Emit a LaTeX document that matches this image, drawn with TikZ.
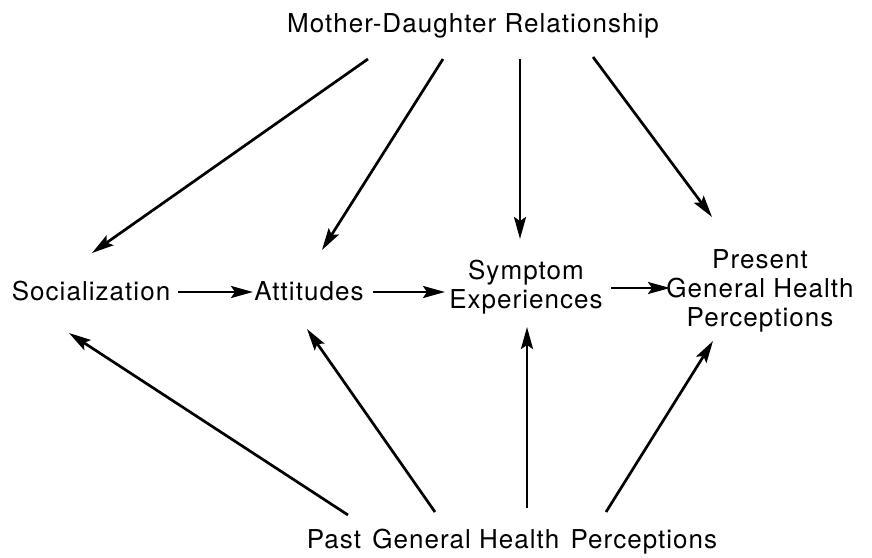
\documentclass[tikz,border=0pt]{standalone}
\usepackage{fontspec}
\setmainfont[LetterSpace=4]{TeX Gyre Heros}
\usetikzlibrary{arrows.meta}

\begin{document}
\begin{tikzpicture}[x=1pt,y=1pt,
    every node/.style={font=\fontsize{26}{29}\selectfont,inner sep=0pt,align=center},
    arr/.style={line width=2.7pt,-{Stealth[length=22pt,width=12pt,inset=4pt]}}]
      \useasboundingbox (0,0) rectangle (872,557);
      \node (mdr) at (473,531) {Mother-Daughter Relationship};
      \node (soc) at (91,266) {Socialization};
      \node (att) at (309,266) {Attitudes};
      \node (sym) at (526,270) {Symptom\\Experiences};
      \node (pres) at (760,266) {Present\\General Health\\Perceptions};
      \node (past) at (512,15) {Past\ \hspace{3pt}General Health\ \hspace{3pt}Perceptions};
      % from the relationship
      \draw[arr] ([shift={(-105,-33)}]mdr.center) -- ([shift={(1,38)}]soc.center);
      \draw[arr] ([shift={(-30,-33)}]mdr.center) -- ([shift={(13,41)}]att.center);
      \draw[arr] ([shift={(47,-33)}]mdr.center) -- ([shift={(-6,48)}]sym.center);
      \draw[arr] ([shift={(120,-31)}]mdr.center) -- ([shift={(-48,74)}]pres.center);
      % along the middle
      \draw[arr] ([shift={(87,-1)}]soc.center) -- ([shift={(-56,-1)}]att.center);
      \draw[arr] ([shift={(64,-1)}]att.center) -- ([shift={(-81,-5)}]sym.center);
      \draw[arr] ([shift={(85,-1)}]sym.center) -- ([shift={(-90,3)}]pres.center);
      % from past perceptions
      \draw[arr] ([shift={(-164,27)}]past.center) -- ([shift={(-22,-42)}]soc.center);
      \draw[arr] ([shift={(-77,30)}]past.center) -- ([shift={(-2,-38)}]att.center);
      \draw[arr] ([shift={(15,34)}]past.center) -- ([shift={(1,-40)}]sym.center);
      \draw[arr] ([shift={(94,30)}]past.center) -- ([shift={(-47,-50)}]pres.center);
\end{tikzpicture}
\end{document}
